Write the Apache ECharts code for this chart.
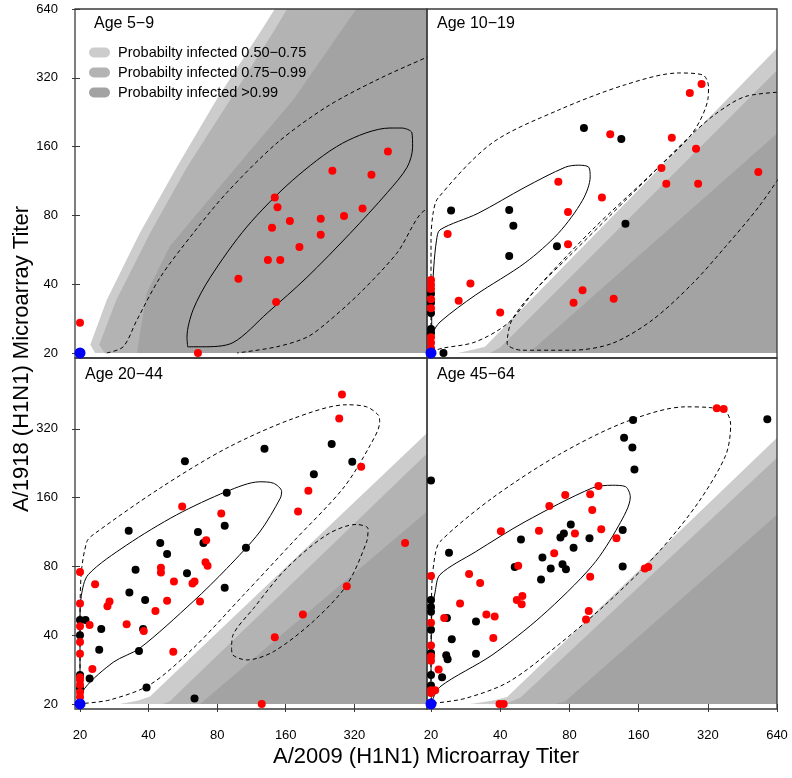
<!DOCTYPE html>
<html>
<head>
<meta charset="utf-8">
<script src="https://cdn.jsdelivr.net/npm/echarts@6/dist/echarts.min.js"></script>
<style>
  html, body { margin: 0; padding: 0; background: #fff; }
  #chart { width: 792px; height: 778px; }
</style>
</head>
<body>
<div id="chart"></div>
<script>
// all positions are in doubling steps above a titer of 20 (log2(titer / 20))
const tickLabels = [20, 40, 80, 160, 320, 640]
const panelNames = ['Age 5−9', 'Age 10−19', 'Age 20−44', 'Age 45−64']
const probNames = ['Probabilty infected 0.50−0.75', 'Probabilty infected 0.75−0.99', 'Probabilty infected >0.99']
const blueOrigin = [[0, 0]]

const red5to9 = [[4.49,2.93],[3.68,2.65],[4.25,2.59],[2.84,2.26],[2.88,2.12],[4.12,2.10],[3.85,1.99],[3.06,1.92],[3.51,1.95],[2.80,1.82],[3.51,1.72],[3.20,1.54],[2.74,1.35],[2.92,1.35],[2.31,1.08],[2.86,0.74],[0,0.44],[1.72,0]]
const black5to9 = []

const red10to19 = [[3.91,3.91],[3.74,3.78],[2.59,3.18],[3.48,3.13],[3.83,2.97],[3.33,2.69],[4.73,2.63],[3.40,2.46],[3.86,2.46],[1.84,2.49],[2.47,2.26],[1.98,2.05],[0.24,1.73],[1.98,1.58],[0.57,1.01],[2.19,0.91],[0.40,0.76],[2.06,0.73],[2.64,0.79],[1.0,0.59],
  [0,1.06],[0,0.99],[0,0.93],[0,0.78],[0,0.65],[0,0.23],[0,0.15],[0,0.07]]
const black10to19 = [[2.21,3.27],[2.75,3.11],[0.29,2.07],[1.13,2.08],[1.19,1.85],[2.81,1.88],[1.82,1.55],[1.13,1.41],[0.18,0],
  [0,0.86],[0,0.73],[0,0.58],[0,0.35],[0,0.29]]

const red20to44 = [[3.82,4.50],[3.78,4.15],[4.10,3.45],[3.33,3.10],[1.49,2.87],[2.06,2.77],[3.18,2.80],[4.74,2.34],[1.84,2.38],[1.83,2.06],[1.86,2.01],[1.18,1.98],[1.18,1.91],[0.22,1.74],[1.37,1.78],[1.67,1.78],[1.64,1.75],[3.89,1.71],[0.43,1.49],[0.40,1.42],[1.27,1.50],[1.75,1.49],[1.10,1.35],[3.25,1.30],[0.68,1.16],[0.14,1.15],[0.93,1.06],[2.84,0.97],[1.36,0.76],[0.18,0.51],[2.65,0],
  [0,1.92],[0,1.46],[0,1.13],[0,0.90],[0,0.73],[0,0.39],[0,0.35],[0,0.28],[0,0.17],[0,0.10]]
const black20to44 = [[2.69,3.71],[3.67,3.78],[1.53,3.53],[3.97,3.52],[3.41,3.34],[2.14,3.07],[2.11,2.59],[0.71,2.52],[1.72,2.50],[1.80,2.34],[1.17,2.34],[2.42,2.27],[1.27,2.18],[0.81,1.95],[1.56,1.90],[2.11,1.69],[0.72,1.62],[0.95,1.51],[0.08,1.22],[0,1.22],[0.31,1.09],[0.92,1.09],[0,1.0],[0.28,0.79],[0.86,0.77],[0.14,0.37],[0.97,0.24],[1.67,0.08],
  [0,0.42],[0,0.23]]

const red45to64 = [[4.13,4.30],[4.23,4.29],[2.42,3.17],[1.94,3.04],[2.30,3.05],[1.71,2.88],[2.33,2.82],[1.01,2.51],[1.56,2.52],[2.08,2.48],[2.46,2.54],[2.68,2.41],[1.78,2.19],[1.26,2.01],[3.09,1.97],[3.14,1.99],[0.55,1.89],[0.71,1.76],[0,1.86],[2.30,1.85],[1.32,1.57],[1.24,1.51],[1.31,1.45],[0.42,1.46],[0.80,1.30],[0.92,1.27],[0.19,1.25],[2.28,1.35],[2.24,1.23],[0.90,0.96],[0,1.18],[0.11,0.50],[0.99,0],[1.05,0],[0.06,0.20],
  [0,0.85],[0,0.69],[0,0.63],[0,0.20],[0,0.16]]
const black45to64 = [[2.92,4.13],[4.86,4.14],[2.79,3.87],[2.91,3.73],[2.94,3.41],[0,3.25],[2.02,2.61],[1.92,2.48],[1.87,2.42],[2.29,2.41],[2.77,2.53],[1.30,2.39],[2.06,2.27],[0.26,2.20],[1.61,2.13],[1.21,1.99],[1.90,2.03],[1.95,1.96],[1.73,1.97],[1.59,1.81],[2.77,2.0],[0.23,1.25],[0.65,1.20],[0.30,0.94],[0.65,0.73],[0.22,0.71],[0.24,0.65],[0.16,0.39],
  [0,1.51],[0,1.41],[0,1.34],[0,1.08],[0,0.74],[0,0.42],[0,0.27]]

// edges of the probability bands (0.50, 0.75, 0.99)
const bands5to9 = [
  [[0.22,0],[0.15,0.12],[0.39,0.77],[0.87,1.74],[1.41,2.70],[1.99,3.68],[2.62,4.65],[2.84,5.0]],
  [[0.36,0],[0.28,0.12],[0.53,0.77],[1.02,1.74],[1.56,2.70],[2.19,3.68],[2.81,4.65],[3.02,5.0]],
  [[0.83,0],[0.97,0.87],[1.31,1.55],[2.04,2.42],[3.11,3.68],[4.03,5.0]]
]
const bands10to19 = [
  [[0.39,0],[0.62,0.05],[0.78,0.09],[5.0,4.43]],
  [[0.85,0],[1.0,0.08],[5.0,4.11]],
  [[1.40,0],[1.46,0.04],[5.0,3.19]]
]
const bands20to44 = [
  [[0.58,0],[0.85,0.05],[1.02,0.11],[5.06,3.94]],
  [[1.2,0],[1.31,0.04],[5.06,3.64]],
  [[1.75,0],[5.06,2.80]]
]
const bands45to64 = [
  [[0.57,0],[0.9,0.05],[1.1,0.1],[5.0,3.87]],
  [[1.07,0],[1.29,0.09],[5.0,3.58]],
  [[1.8,0],[1.94,0.04],[5.0,2.75]]
]

// density contours
const solid5to9 = [[1.57,0.09],[1.56,0.23],[1.65,0.63],[1.90,1.10],[2.43,1.83],[3.10,2.51],[3.83,3.05],[4.52,3.27],[4.69,3.27],[4.84,3.20],[4.85,2.99],[4.77,2.70],[4.48,2.33],[3.94,1.74],[3.31,1.10],[2.73,0.58],[2.23,0.15],[1.79,0.09],[1.57,0.09]]
const dashed5to9 = [
  [[0.39,0],[0.63,0.09],[0.83,0.48],[1.17,1.10],[1.65,1.74],[2.14,2.33],[2.87,3.05],[3.60,3.58],[4.33,3.97],[5.06,4.30],[5.3,4.4]],
  [[5.3,1.8],[5.06,2.08],[4.62,1.45],[4.08,0.87],[3.60,0.44],[3.31,0.23],[2.87,0.09],[2.29,0]]
]
const solid10to19 = [[0.01,0.02],[0.03,0.29],[0.13,0.45],[0.64,0.84],[1.36,1.31],[1.84,1.74],[2.19,2.22],[2.30,2.56],[2.28,2.70],[2.13,2.73],[1.94,2.70],[1.36,2.41],[0.68,2.03],[0.13,1.79],[0.08,1.64],[0.04,1.25],[0.01,0.63],[0.01,0.02]]
const dashed10to19 = [
  [[0,0.02],[0.17,0.07],[0.64,0.16],[1.12,0.44],[1.51,0.92],[2.33,1.79],[3.29,2.70],[3.78,3.20],[4.0,3.68],[4.01,3.87],[3.93,4.04],[3.58,4.07],[2.81,3.90],[1.84,3.53],[0.88,3.05],[0.10,2.25],[0.03,2.03],[0,1.64],[0,0.02]],
  [[5.2,3.8],[4.55,3.73],[4.12,3.48],[3.73,3.14],[3.20,2.61],[2.62,2.03],[1.99,1.40],[1.51,0.92],[1.17,0.48],[1.10,0.14],[1.31,0.04],[2.04,0.04],[2.62,0.14],[3.20,0.48],[3.78,1.01],[4.26,1.55],[4.74,2.13],[5.2,2.8]]
]
const solid20to44 = [[0.01,0.01],[0.07,0.23],[0.49,0.61],[0.87,0.81],[1.65,1.49],[2.14,1.97],[2.62,2.50],[2.92,2.99],[2.94,3.09],[2.82,3.21],[2.62,3.23],[2.14,3.09],[1.41,2.75],[0.68,2.31],[0.12,1.88],[0.02,1.58],[0,1.20],[0,0.2],[0.01,0.01]]
const dashed20to44 = [
  [[0.07,0.01],[0.44,0.06],[1.02,0.28],[1.65,0.81],[2.38,1.58],[3.11,2.36],[3.84,3.14],[4.23,3.76],[4.37,4.10],[4.35,4.20],[4.18,4.32],[3.89,4.35],[3.11,4.15],[2.14,3.72],[1.17,3.14],[0.19,2.46],[0.10,2.36],[0.02,1.92],[0,1.20],[0,0.06],[0.07,0.01]],
  [[2.21,0.81],[2.23,0.71],[2.43,0.64],[2.82,0.76],[3.40,1.20],[3.89,1.73],[4.18,2.36],[4.20,2.55],[4.03,2.61],[3.60,2.46],[3.01,1.97],[2.53,1.39],[2.23,1.00],[2.21,0.81]]
]
const solid45to64 = [[0.01,0.03],[0.13,0.25],[0.88,0.71],[1.60,1.28],[2.33,2.01],[2.71,2.59],[2.88,3.01],[2.81,3.16],[2.62,3.18],[2.33,3.14],[1.36,2.65],[0.64,2.21],[0.13,1.88],[0.06,1.63],[0.01,1.29],[0,0.2],[0.01,0.03]]
const dashed45to64 = [
  [[0.03,0.01],[0.49,0.08],[1.12,0.32],[1.84,0.86],[2.57,1.49],[3.29,2.21],[3.87,2.94],[4.26,3.62],[4.33,4.06],[4.26,4.25],[4.02,4.31],[3.68,4.32],[2.81,4.10],[1.84,3.62],[0.88,2.99],[0.13,2.36],[0.06,2.17],[0.01,1.68],[0,0.06],[0.03,0.01]]
]

const panels = [
  { red: red5to9, black: black5to9, bands: bands5to9, solid: solid5to9, dashed: dashed5to9 },
  { red: red10to19, black: black10to19, bands: bands10to19, solid: solid10to19, dashed: dashed10to19 },
  { red: red20to44, black: black20to44, bands: bands20to44, solid: solid20to44, dashed: dashed20to44 },
  { red: red45to64, black: black45to64, bands: bands45to64, solid: solid45to64, dashed: dashed45to64 }
]

const FONT = '"Liberation Sans", Arial, Helvetica, sans-serif'
const bandColors = ['#cccccc', '#b3b3b3', '#a3a3a3']
const frame = '#3a3a3a'

// panel layout
const colLeft = [75, 427], colWidth = [352, 350]
const rowTop = [9, 358], rowHeight = [349, 351]
const xRange = [[-0.073, 5.06], [-0.058, 5.0]]
const yRange = [[-0.073, 5.0], [-0.073, 5.03]]
const xLabelAt = [null, null, [0, 1, 2, 3, 4], [0, 1, 2, 3, 4, 5]]
const yLabelAt = [[0, 1, 2, 3, 4, 5], null, [0, 1, 2, 3, 4], null]
const titlePos = [[94, 16], [437, 16], [85, 367], [437, 367]]

const chart = echarts.init(document.getElementById('chart'))

const grids = [], xAxes = [], yAxes = [], series = []

function axis(i, range, vals, pos) {
  return {
    type: 'value', gridIndex: i, min: range[0], max: range[1], position: pos,
    splitLine: { show: false },
    axisLine: { show: false },
    axisTick: { show: !!vals, customValues: vals || [], length: 8, lineStyle: { color: frame, width: 1 } },
    axisLabel: {
      show: !!vals, customValues: vals || [], margin: pos === 'bottom' ? 20 : 17,
      color: '#000', fontSize: 13, fontFamily: FONT,
      formatter: v => String(tickLabels[Math.round(v)])
    }
  }
}

panels.forEach((p, i) => {
  const col = i % 2, row = Math.floor(i / 2)
  const xr = xRange[col], yr = yRange[row]
  grids.push({
    left: colLeft[col], top: rowTop[row], width: colWidth[col], height: rowHeight[row],
    show: true, borderColor: frame, borderWidth: 1.3, backgroundColor: 'transparent', z: 5
  })
  xAxes.push(axis(i, xr, xLabelAt[i], 'bottom'))
  yAxes.push(axis(i, yr, yLabelAt[i], 'left'))

  p.bands.forEach((edge, k) => {
    const last = edge[edge.length - 1]
    const poly = edge.concat([[xr[1], last[1]], [xr[1], 0]])
    series.push({
      type: 'custom', name: probNames[k], xAxisIndex: i, yAxisIndex: i, z: 1, silent: true,
      itemStyle: { color: bandColors[k] },
      data: [[0, 0]],
      renderItem: (params, api) => ({
        type: 'polygon',
        shape: { points: poly.map(pt => api.coord(pt)) },
        style: { fill: bandColors[k] }
      })
    })
  })

  const contours = [{ pts: p.solid, dash: false }].concat(p.dashed.map(d => ({ pts: d, dash: true })))
  contours.forEach(c => {
    series.push({
      type: 'line', xAxisIndex: i, yAxisIndex: i, data: c.pts, z: 3, silent: true,
      symbol: 'none', smooth: 0.3, clip: true,
      lineStyle: { color: '#000', width: 1, type: c.dash ? [4, 3] : 'solid' }
    })
  })

  series.push({ type: 'scatter', xAxisIndex: i, yAxisIndex: i, data: p.black, symbolSize: 8, z: 6, itemStyle: { color: '#000', opacity: 1 } })
  series.push({ type: 'scatter', xAxisIndex: i, yAxisIndex: i, data: p.red, symbolSize: 8, z: 6, itemStyle: { color: '#ff0000', opacity: 1 } })
  series.push({ type: 'scatter', xAxisIndex: i, yAxisIndex: i, data: blueOrigin, symbolSize: 11, z: 7, itemStyle: { color: '#0000ff', opacity: 1 } })
})

chart.setOption({
  animation: false,
  textStyle: { fontFamily: FONT },
  title: panelNames.map((t, i) => ({
    text: t, left: titlePos[i][0], top: titlePos[i][1], padding: 0,
    textStyle: { fontSize: 16, fontWeight: 'normal', color: '#000', fontFamily: FONT }
  })),
  legend: {
    data: probNames, orient: 'vertical', left: 89, top: 45, padding: 0,
    itemWidth: 21, itemHeight: 10, itemGap: 5, selectedMode: false,
    icon: 'path://M5 0H16A5 5 0 0 1 16 10H5A5 5 0 0 1 5 0Z',
    textStyle: { fontSize: 14.5, color: '#000', fontFamily: FONT, padding: [0, 0, 0, 3] }
  },
  grid: grids,
  xAxis: xAxes,
  yAxis: yAxes,
  series: series,
  graphic: [
    { type: 'text', x: 426, y: 757, style: { text: 'A/2009 (H1N1) Microarray Titer', fontSize: 22, fontFamily: FONT, fill: '#000', align: 'center', verticalAlign: 'middle' } },
    { type: 'text', x: 22, y: 359, rotation: Math.PI / 2, style: { text: 'A/1918 (H1N1) Microarray Titer', fontSize: 22, fontFamily: FONT, fill: '#000', align: 'center', verticalAlign: 'middle' } }
  ]
})
</script>
</body>
</html>
